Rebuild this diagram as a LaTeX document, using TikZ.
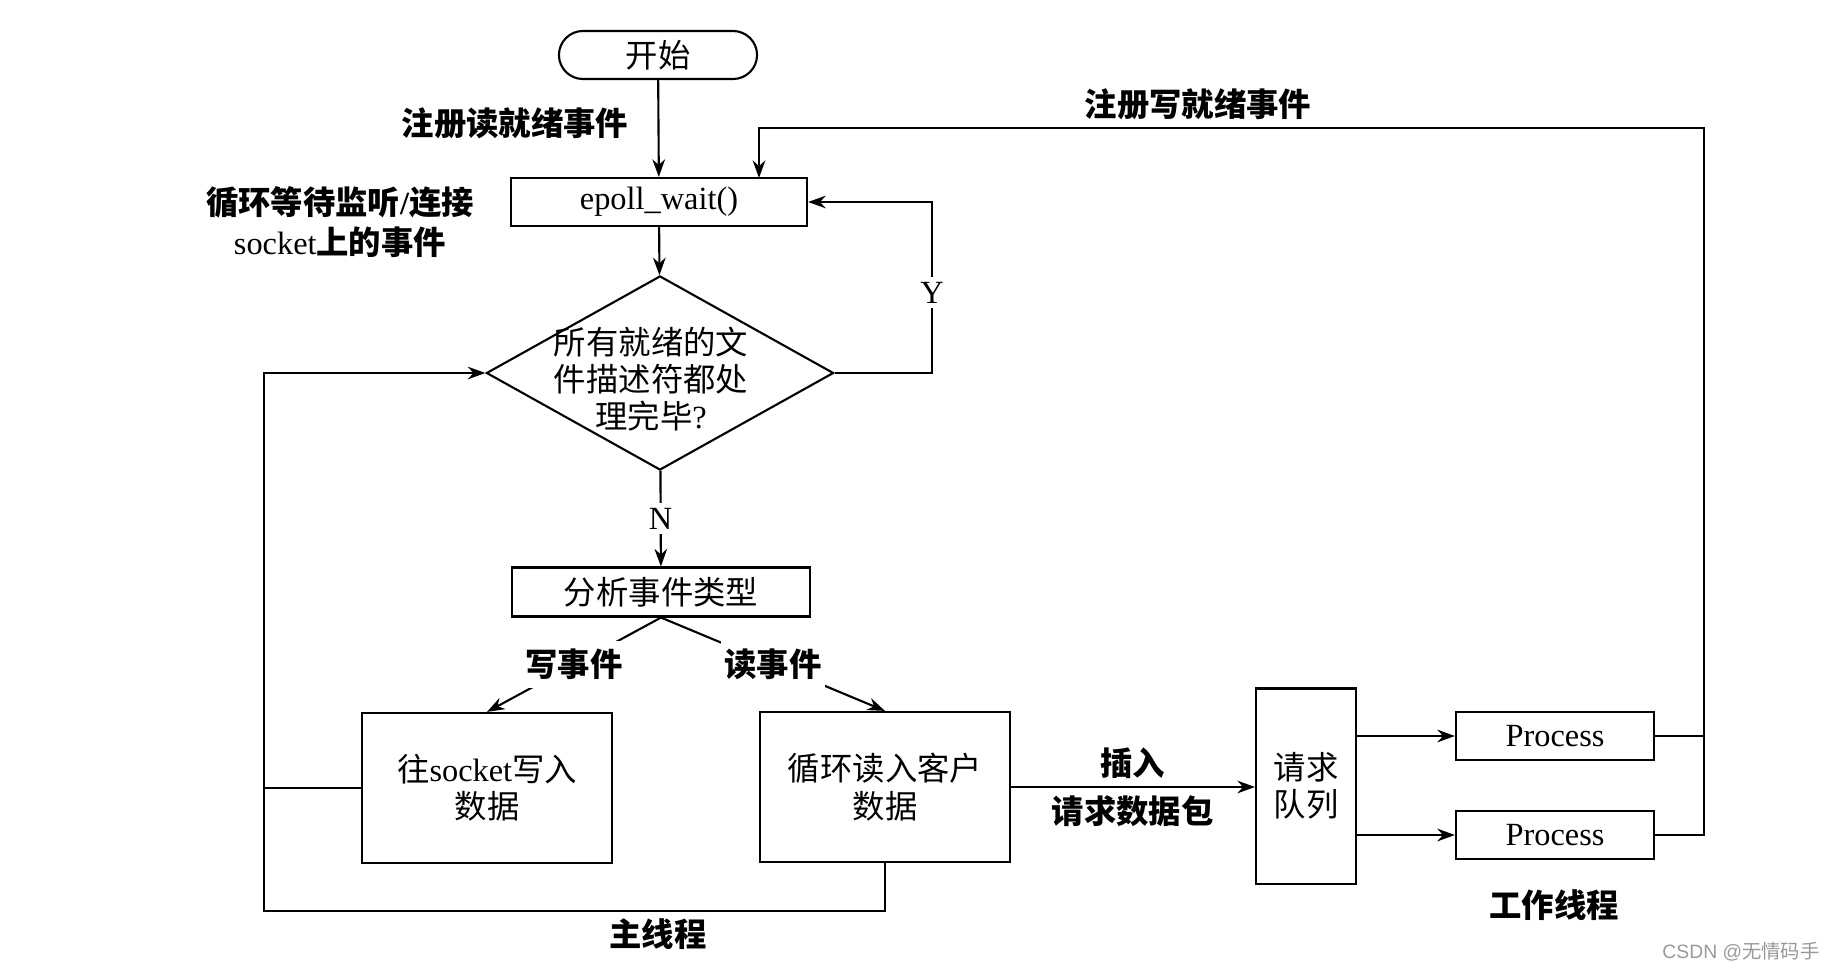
\documentclass[tikz,border=0pt]{standalone}
\usepackage{fontspec}
\setmainfont{Liberation Serif}
\newfontfamily\cjk{Noto Sans CJK SC}
\newfontfamily\wmfont{Liberation Sans}
\usepackage{tikz}
\usetikzlibrary{arrows.meta,shapes.geometric}
\newcommand{\zh}[1]{{\cjk #1}}
\tikzset{every node/.style={font=\fontsize{9.2}{10.6}\selectfont}}
\tikzset{box/.style={draw, line width=0.6pt, minimum height=0.48cm, inner sep=0pt}}
\tikzset{term/.style={box, rounded corners=0.24cm, minimum width=1.98cm}}
\tikzset{bigbox/.style={box, align=center, minimum width=2.49cm, minimum height=1.5cm}}
\tikzset{decision/.style={draw, line width=0.6pt, diamond, minimum width=3.47cm, minimum height=1.94cm, inner sep=0pt}}
\tikzset{lbl/.style={font=\fontsize{9.2}{11.3}\selectfont\bfseries, align=center, inner sep=0pt}}
\tikzset{cut/.style={fill=white, inner xsep=1pt, inner ysep=#1}}
\tikzset{cut/.default=0.05cm}
\tikzset{edge/.style={line width=0.6pt}}
\tikzset{arc/.style={edge, -{Stealth[length=5pt, width=3.6pt]}}}

\begin{document}
\begin{tikzpicture}[x=0.01cm, y=-0.01cm]
\useasboundingbox (0,0) rectangle (1824,970);
\node (start) at (658,55)[term]{\zh{开始}};
\node (wait) at (659,202)[box, minimum width=2.96cm]{epoll\_wait()};
\node (dec) at (660,373)[decision]{};
\node (dectext) at (651,379)[align=center]{\zh{所有就绪的文}\\\zh{件描述符都处}\\\zh{理完毕}?};
\node (type) at (661,592)[box, minimum width=2.98cm, minimum height=0.49cm]{\zh{分析事件类型}};
\node (wr) at (487,788)[bigbox]{\zh{往}socket\zh{写入}\\\zh{数据}};
\node (rd) at (885,787)[bigbox]{\zh{循环读入客户}\\\zh{数据}};
\node (queue) at (1306,786)[bigbox, minimum width=1cm, minimum height=1.95cm]{\zh{请求}\\\zh{队列}};
\node (p1) at (1555,736)[box, minimum width=1.98cm]{Process};
\node (p2) at (1555,835)[box, minimum width=1.98cm]{Process};

\coordinate (yc) at (932,373);
\coordinate (loopc) at (264,911);
\coordinate (topc) at (1704,128);
\coordinate (win) at (759,178);

%main thread
\draw[arc] (start) -- (wait);
\draw[arc] (wait) -- (dec);
\draw[arc] (dec.east) -- (yc) -- node[cut, pos=0.47]{Y} (yc |- wait) -- (wait.east);
\draw[arc] (dec) -- node[cut]{N} (type);
\draw[arc] (type.south) -- node[lbl, cut=0.08cm]{\zh{写事件}} (wr.north);
\draw[arc] (type.south) -- node[lbl, cut=0.08cm]{\zh{读事件}} (rd.north);
\draw[edge] (wr.west) -- (wr.west -| loopc);
\draw[arc] (rd.south) |- (loopc) |- (dec.west);
\draw[arc] (rd.east) -- node[lbl, above=0.07cm]{\zh{插入}} node[lbl, below=0.08cm]{\zh{请求数据包}} (rd.east -| queue.west);

%worker threads
\draw[arc] (queue.east |- p1) -- (p1.west);
\draw[arc] (queue.east |- p2) -- (p2.west);
\draw[edge] (p1.east) -- (p1.east -| topc);
\draw[arc] (p2.east) -| (topc) -| (win);

\node (regr) at (515,123)[lbl]{\zh{注册读就绪事件}};
\node (loopl) at (340,222)[lbl]{\zh{循环等待监听}/\zh{连接}\\\textmd{socket}\zh{上的事件}};
\node (regw) at (1198,104)[lbl]{\zh{注册写就绪事件}};
\node (mainl) at (658,934)[lbl]{\zh{主线程}};
\node (workl) at (1554,905)[lbl]{\zh{工作线程}};
\node (wm) at (1741,952)[font=\wmfont\fontsize{5.5}{6}\selectfont, text=black!40]{CSDN @\zh{无情码手}};
\end{tikzpicture}
\end{document}
